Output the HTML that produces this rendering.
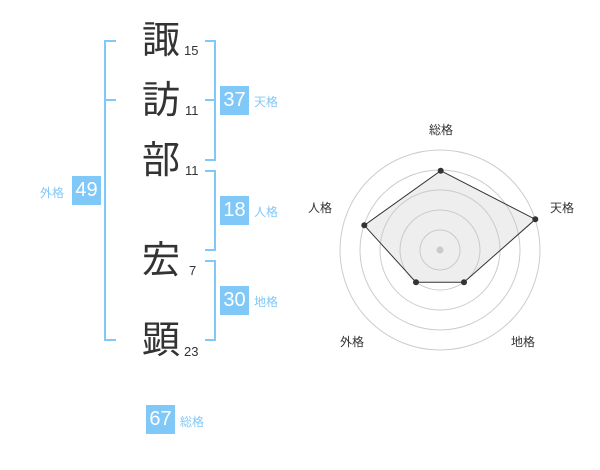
<!DOCTYPE html>
<html><head><meta charset="utf-8"><style>
body{margin:0;width:600px;height:470px;background:#fff;position:relative;overflow:hidden;font-family:"Liberation Sans","Noto Sans CJK JP",sans-serif}
.k{position:absolute;left:141px;font-size:38px;line-height:38px;color:#333;width:40px;text-align:center}
.n{position:absolute;font-size:13px;color:#333;line-height:13px}
.b{position:absolute;width:29px;height:29px;background:#80c8f8;color:#fff;font-size:20px;line-height:29px;text-align:center}
.l{position:absolute;font-size:12px;color:#80c8f8;line-height:12px}
.v{position:absolute;background:#80c8f8}
</style></head><body>
<div class="k" style="top:22px">諏</div><div class="n" style="left:184px;top:44px">15</div>
<div class="k" style="top:82px">訪</div><div class="n" style="left:185px;top:104px">11</div>
<div class="k" style="top:142px">部</div><div class="n" style="left:185px;top:164px">11</div>
<div class="k" style="top:242px">宏</div><div class="n" style="left:189px;top:264px">7</div>
<div class="k" style="top:322px">顕</div><div class="n" style="left:184px;top:345px">23</div>
<!-- left bracket -->
<div class="v" style="left:104px;top:40px;width:2px;height:301px"></div>
<div class="v" style="left:104px;top:40px;width:12px;height:2px"></div>
<div class="v" style="left:104px;top:99px;width:12px;height:2px"></div>
<div class="v" style="left:104px;top:339px;width:12px;height:2px"></div>
<!-- right brackets -->
<div class="v" style="left:214px;top:40px;width:2px;height:121px"></div>
<div class="v" style="left:205px;top:40px;width:10px;height:2px"></div>
<div class="v" style="left:205px;top:99px;width:10px;height:2px"></div>
<div class="v" style="left:205px;top:159px;width:10px;height:2px"></div>
<div class="v" style="left:214px;top:170px;width:2px;height:81px"></div>
<div class="v" style="left:205px;top:170px;width:10px;height:2px"></div>
<div class="v" style="left:205px;top:249px;width:10px;height:2px"></div>
<div class="v" style="left:214px;top:260px;width:2px;height:81px"></div>
<div class="v" style="left:205px;top:260px;width:10px;height:2px"></div>
<div class="v" style="left:205px;top:339px;width:10px;height:2px"></div>
<div class="b" style="left:220px;top:86px">37</div><div class="l" style="left:254px;top:96px">天格</div>
<div class="b" style="left:220px;top:196px">18</div><div class="l" style="left:254px;top:206px">人格</div>
<div class="b" style="left:220px;top:286px">30</div><div class="l" style="left:254px;top:296px">地格</div>
<div class="b" style="left:72px;top:176px">49</div><div class="l" style="left:40px;top:187px">外格</div>
<div class="b" style="left:146px;top:405px">67</div><div class="l" style="left:180px;top:416px">総格</div>
<svg style="position:absolute;left:0;top:0" width="600" height="470">
<g fill="none" stroke="#ccc" stroke-width="1">
<circle cx="440" cy="250" r="20"/><circle cx="440" cy="250" r="40"/><circle cx="440" cy="250" r="60"/><circle cx="440" cy="250" r="80"/><circle cx="440" cy="250" r="100"/>
</g>
<circle cx="440" cy="250" r="3.5" fill="#ccc"/>
<polygon points="440.7,170.7 535.3,219.3 464,282.3 416,282.3 364.3,225.3" fill="rgba(200,200,200,0.3)" stroke="#333" stroke-width="1"/>
<g fill="#333"><circle cx="440.7" cy="170.7" r="3"/><circle cx="535.3" cy="219.3" r="3"/><circle cx="464" cy="282.3" r="3"/><circle cx="416" cy="282.3" r="3"/><circle cx="364.3" cy="225.3" r="3"/></g>
<g font-size="12" fill="#333" text-anchor="middle" font-family="Liberation Sans,Noto Sans CJK JP,sans-serif">
<text x="441" y="134">総格</text><text x="562" y="212">天格</text><text x="523" y="346">地格</text><text x="352" y="346">外格</text><text x="320" y="212">人格</text>
</g>
</svg>
</body></html>
